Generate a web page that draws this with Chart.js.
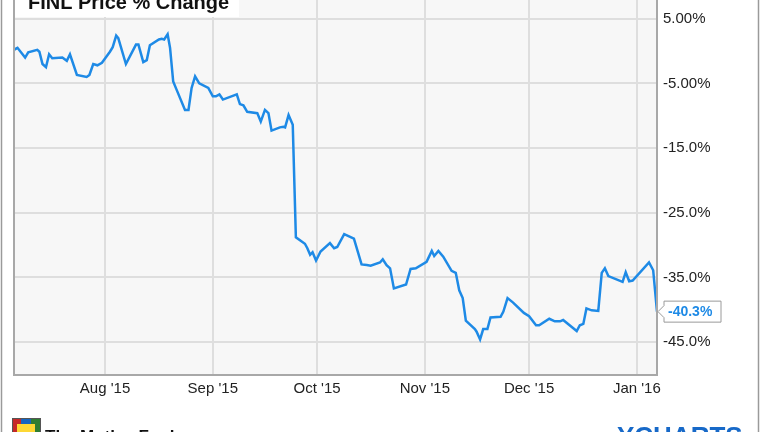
<!DOCTYPE html>
<html>
<head>
<meta charset="utf-8">
<script src="https://cdn.jsdelivr.net/npm/chart.js@4/dist/chart.umd.min.js"></script>
<style>
    body { margin: 0; background: #fff; }
    canvas { display: block; }
</style>
</head>
<body>
<canvas id="priceChart" width="764" height="432"></canvas>
<script>
// FINL price % change, x = days since Jul 1 2015
var days = [4.8, 5.8, 8.0, 8.9, 11.5, 12.1, 13.0, 14.0, 14.9, 15.8, 18.7, 20.0, 20.9, 22.9, 25.7, 26.5, 27.6, 28.8, 30.1, 32.4,
    33.2, 34.2, 34.8, 37.0, 39.9, 40.6, 42.0, 43.0, 43.9, 46.5, 47.3, 48.0, 49.0, 49.7, 50.6, 51.6, 54.0, 55.0, 55.9, 56.9,
    58.1, 60.7, 62.0, 62.9, 63.9, 64.9, 68.9, 69.8, 70.8, 71.9, 74.8, 75.8, 77.0, 78.0, 78.9, 81.3, 82.3, 82.8, 83.8, 85.0,
    85.9, 88.5, 89.2, 90.0, 90.7, 91.7, 93.0, 95.7, 96.9, 97.8, 99.8, 102.6, 104.8, 106.3, 107.4, 110.1, 110.9, 112.0, 113.0, 114.1,
    117.6, 118.9, 120.4, 123.5, 125.0, 125.7, 126.9, 128.3, 130.7, 131.9, 132.9, 133.9, 134.8, 137.4, 137.9, 138.9, 139.8, 141.0, 141.9, 144.8,
    145.6, 146.8, 148.4, 151.5, 153.0, 155.0, 155.9, 158.8, 160.4, 161.9, 162.8, 166.7, 167.6, 168.6, 169.5, 171.0, 172.9, 173.9, 174.8, 175.8,
    179.9, 180.8, 181.8, 182.8, 187.5, 188.7, 189.8];
var pctChange = [0.2, 0.5, -1.0, -0.2, 0.2, -0.1, -2.0, -2.5, -0.5, -1.1, -1.0, -1.5, -0.5, -3.7, -4.0, -3.7, -2.0, -2.2, -1.8, -0.1,
    0.6, 2.4, 2.0, -2.0, 1.0, 1.0, -1.7, -1.4, 0.9, 1.8, 1.9, 1.8, 2.6, 0.5, -4.7, -6.0, -9.1, -9.1, -5.7, -3.9,
    -5.0, -5.7, -7.0, -7.0, -6.7, -7.5, -6.7, -8.2, -8.4, -9.4, -9.6, -10.9, -9.1, -9.6, -12.3, -11.8, -11.7, -11.8, -9.9, -11.4,
    -28.8, -29.8, -30.5, -31.5, -31.1, -32.4, -31.0, -29.7, -30.5, -30.3, -28.3, -29.0, -33.0, -33.1, -33.2, -32.7, -32.2, -33.1, -33.6, -36.7,
    -36.1, -33.7, -33.6, -32.6, -30.9, -31.7, -30.9, -31.8, -34.0, -34.3, -37.0, -38.2, -41.7, -43.0, -43.4, -44.6, -43.0, -43.0, -41.2, -41.1,
    -40.3, -38.2, -38.9, -40.5, -41.0, -42.4, -42.4, -41.4, -41.8, -41.8, -41.6, -43.3, -42.4, -42.2, -39.8, -40.1, -40.2, -34.3, -33.6, -34.8,
    -35.7, -34.2, -35.6, -35.5, -32.7, -33.9, -40.3];

// axis ticks
var monthDays = [31, 62, 92, 123, 153, 184];
var monthLabels = ["Aug '15", "Sep '15", "Oct '15", "Nov '15", "Dec '15", "Jan '16"];
var yTickValues = [5, -5, -15, -25, -35, -45];
var yTickLabels = ['5.00%', '-5.00%', '-15.0%', '-25.0%', '-35.0%', '-45.0%'];

var lineColor = '#1e8ae6';
var gridColor = '#dedede';

// background, plot frame, title, end label and footer
var decorations = {
    id: 'decorations',
    beforeDraw: function (chart) {
        var c = chart.ctx, a = chart.chartArea;
        c.save();
        c.fillStyle = '#ffffff';
        c.fillRect(0, 0, chart.width, chart.height);
        c.fillStyle = '#f7f7f7';
        c.fillRect(a.left, a.top, a.right - a.left, a.bottom - a.top);
        c.restore();
    },
    afterDraw: function (chart) {
        var c = chart.ctx, a = chart.chartArea;
        c.save();
        // plot frame
        c.strokeStyle = '#a8a8a8';
        c.lineWidth = 2;
        c.beginPath();
        c.moveTo(a.left, 0);
        c.lineTo(a.left, a.bottom);
        c.lineTo(a.right, a.bottom);
        c.lineTo(a.right, 0);
        c.stroke();
        // outer frame
        c.strokeStyle = '#9a9a9a';
        c.lineWidth = 1.5;
        c.beginPath();
        c.moveTo(1.5, 0); c.lineTo(1.5, chart.height);
        c.moveTo(758.5, 0); c.lineTo(758.5, chart.height);
        c.stroke();

        // title box
        c.fillStyle = '#ffffff';
        c.fillRect(a.left + 1, 0, 224, 17);
        c.fillStyle = '#111111';
        c.font = 'bold 20px "Liberation Sans", Arial, sans-serif';
        c.textBaseline = 'alphabetic';
        c.fillText('FINL Price % Change', 28, 9);

        // last value label
        var meta = chart.getDatasetMeta(0);
        var last = meta.data[meta.data.length - 1];
        var px = last.x, py = last.y;
        var bx = px + 7, bw = 57, bh = 21;
        c.beginPath();
        c.moveTo(px + 1, py);
        c.lineTo(bx, py - 6);
        c.lineTo(bx, py - bh / 2);
        c.lineTo(bx + bw, py - bh / 2);
        c.lineTo(bx + bw, py + bh / 2);
        c.lineTo(bx, py + bh / 2);
        c.lineTo(bx, py + 6);
        c.closePath();
        c.fillStyle = '#ffffff';
        c.fill();
        c.strokeStyle = '#9a9a9a';
        c.lineWidth = 1;
        c.stroke();
        c.fillStyle = lineColor;
        c.font = 'bold 14px "Liberation Sans", Arial, sans-serif';
        c.textBaseline = 'middle';
        c.fillText(pctChange[pctChange.length - 1].toFixed(1) + '%', bx + 4, py + 1);

        // footer logos (cut off at the bottom)
        c.fillStyle = '#c62828'; c.fillRect(12, 418, 9, 14);
        c.fillStyle = '#1565c0'; c.fillRect(21, 418, 10, 14);
        c.fillStyle = '#2e7d32'; c.fillRect(31, 418, 10, 14);
        c.fillStyle = '#fdd835'; c.fillRect(17, 424, 18, 8);
        c.strokeStyle = '#555'; c.lineWidth = 1;
        c.strokeRect(12.5, 418.5, 28, 14);
        c.fillStyle = '#111111';
        c.font = 'bold 17px "Liberation Sans", Arial, sans-serif';
        c.textBaseline = 'alphabetic';
        c.fillText('The Motley Fool', 45, 442);
        c.fillStyle = '#1769c8';
        c.font = 'bold 26px "Liberation Sans", Arial, sans-serif';
        c.fillText('YCHARTS', 617, 445);
        c.restore();
    }
};

var ctx = document.getElementById('priceChart').getContext('2d');

var priceChart = new Chart(ctx, {
    type: 'line',
    data: {
        datasets: [{
            label: 'FINL Price % Change',
            data: days.map(function (d, i) { return { x: d, y: pctChange[i] }; }),
            borderColor: lineColor,
            borderWidth: 2.5,
            pointRadius: 0,
            tension: 0,
            fill: false
        }]
    },
    options: {
        responsive: false,
        animation: false,
        layout: { padding: { left: 14, top: 0, right: 0, bottom: 0 } },
        plugins: {
            legend: { display: false },
            tooltip: { enabled: false }
        },
        scales: {
            x: {
                type: 'linear',
                min: 4.8,
                max: 189.8,
                afterBuildTicks: function (scale) {
                    scale.ticks = monthDays.map(function (v) { return { value: v }; });
                },
                afterFit: function (scale) {
                    scale.height = 57;
                    scale.paddingLeft = 0;
                    scale.paddingRight = 0;
                },
                grid: { color: gridColor, lineWidth: 2, drawTicks: false },
                border: { display: false },
                ticks: {
                    autoSkip: false,
                    maxRotation: 0,
                    padding: 5,
                    color: '#222222',
                    font: { family: '"Liberation Sans", Arial, sans-serif', size: 15 },
                    callback: function (value, index) { return monthLabels[index]; }
                }
            },
            y: {
                position: 'right',
                min: -50.1,
                max: 7.9,
                afterBuildTicks: function (scale) {
                    scale.ticks = yTickValues.map(function (v) { return { value: v }; });
                },
                afterFit: function (scale) {
                    scale.width = 107;
                    scale.paddingTop = 0;
                    scale.paddingBottom = 0;
                },
                grid: { color: gridColor, lineWidth: 2, drawTicks: false },
                border: { display: false },
                ticks: {
                    padding: 6,
                    color: '#222222',
                    font: { family: '"Liberation Sans", Arial, sans-serif', size: 15 },
                    callback: function (value, index) { return yTickLabels[index]; }
                }
            }
        }
    },
    plugins: [decorations]
});
</script>
</body>
</html>
